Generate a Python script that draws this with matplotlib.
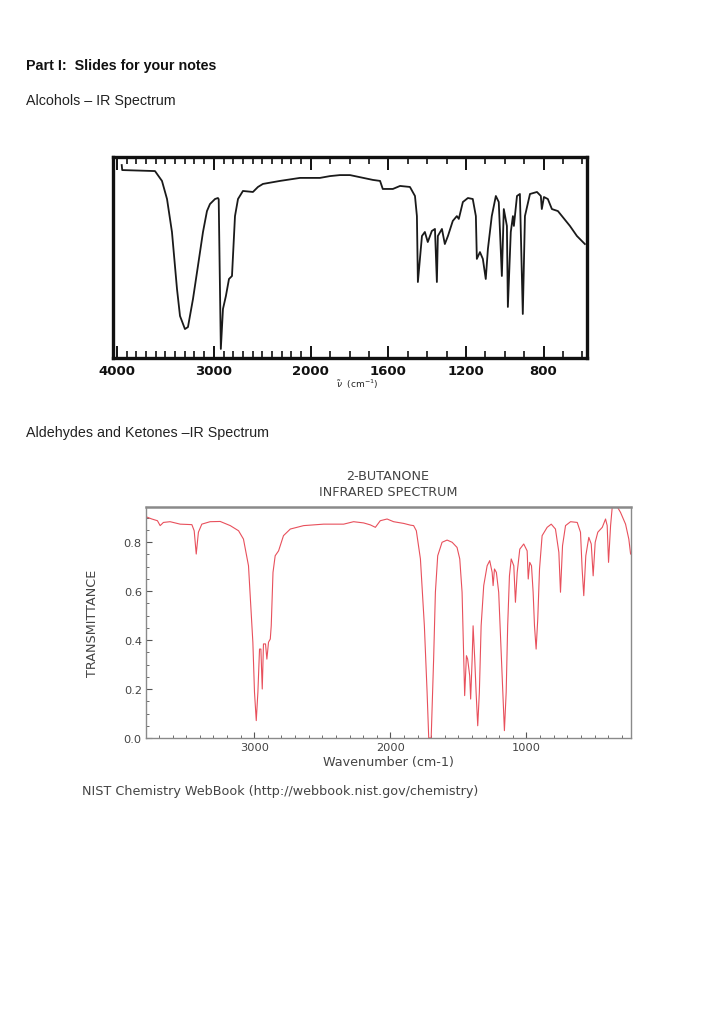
import numpy as np
import matplotlib
matplotlib.use('Agg')
import matplotlib.pyplot as plt
from matplotlib.ticker import FixedLocator, MultipleLocator, NullFormatter, FormatStrFormatter

# --- Alcohol spectrum (scanned chart), wavenumber in cm-1, transmittance in % ---
alc_wn = [3950, 3945, 3607, 3535, 3483, 3432, 3380, 3349, 3298, 3267, 3215, 3164,
          3112, 3071, 3040, 2988, 2958, 2950, 2940, 2928, 2906, 2876, 2844, 2813,
          2782, 2751, 2700, 2597, 2545, 2494, 2318, 2112, 1953, 1901, 1850, 1798,
          1680, 1643, 1629, 1577, 1540, 1489, 1463, 1453, 1448, 1427, 1412, 1397,
          1376, 1360, 1350, 1345, 1324, 1309, 1293, 1268, 1247, 1237, 1216, 1190,
          1165, 1149, 1144, 1128, 1113, 1098, 1087, 1067, 1046, 1031, 1015, 1005,
          989, 984, 969, 958, 953, 937, 922, 907, 896, 870, 834, 814, 809, 798,
          778, 757, 726, 664, 628, 587]
alc_t = [96.0, 93.5, 93.0, 88.1, 79.1, 62.7, 34.3, 20.9, 14.4, 15.4, 29.4, 45.8,
         62.7, 73.1, 76.6, 79.1, 79.6, 79.0, 45.0, 4.5, 24.4, 30.8, 39.3, 40.8,
         70.6, 79.1, 83.1, 82.6, 85.1, 86.6, 88.1, 89.6, 89.6, 90.5, 91.0, 91.0,
         88.6, 88.1, 84.1, 84.1, 85.6, 85.1, 80.6, 70.6, 37.8, 60.7, 62.7, 57.7,
         63.2, 64.2, 37.8, 60.7, 64.2, 56.7, 60.7, 68.2, 70.6, 69.2, 77.6, 79.6,
         79.1, 70.6, 49.3, 52.7, 49.3, 39.3, 54.2, 70.6, 80.6, 77.6, 40.8, 74.1,
         65.7, 25.4, 62.7, 70.6, 65.7, 80.6, 81.6, 21.9, 70.6, 81.6, 82.6, 80.6,
         74.1, 80.1, 79.1, 74.1, 73.1, 65.7, 60.7, 56.7]
alc_labels = [4000, 3000, 2000, 1600, 1200, 800]
alc_minor = [3900, 3800, 3700, 3600, 3500, 3400, 3300, 3200, 3100, 2900, 2800,
             2700, 2600, 2500, 2400, 2300, 2200, 2100, 1900, 1800, 1700, 1500,
             1400, 1300, 1100, 1000, 900, 700, 600]

# --- 2-butanone spectrum (NIST) ---
nist_wn = [3794, 3752, 3711, 3691, 3667, 3618, 3544, 3458, 3441, 3426, 3410, 3385,
           3324, 3250, 3176, 3115, 3079, 3042, 3024, 3010, 2998, 2985, 2973, 2961,
           2951, 2941, 2932, 2917, 2907, 2895, 2882, 2875, 2862, 2846, 2821, 2785,
           2735, 2637, 2490, 2343, 2270, 2196, 2147, 2110, 2074, 2024, 1976, 1902,
           1853, 1829, 1809, 1779, 1750, 1730, 1718, 1700, 1682, 1669, 1652, 1620,
           1583, 1546, 1510, 1490, 1473, 1461, 1454, 1441, 1432, 1417, 1410, 1399,
           1392, 1380, 1370, 1358, 1346, 1333, 1314, 1289, 1270, 1252, 1245, 1235,
           1221, 1204, 1191, 1174, 1162, 1149, 1138, 1125, 1112, 1093, 1081, 1068,
           1049, 1020, 995, 987, 976, 963, 951, 941, 929, 917, 904, 885, 848, 818,
           787, 762, 750, 735, 713, 676, 627, 603, 591, 579, 564, 542, 524, 510,
           495, 476, 443, 419, 407, 397, 382, 370, 333, 309, 272, 248, 235]
nist_t = [0.903, 0.894, 0.887, 0.867, 0.880, 0.883, 0.873, 0.871, 0.846, 0.751, 0.840, 0.873,
          0.883, 0.884, 0.867, 0.846, 0.812, 0.703, 0.527, 0.391, 0.187, 0.071, 0.187, 0.363,
          0.363, 0.200, 0.384, 0.384, 0.322, 0.391, 0.404, 0.458, 0.676, 0.744, 0.764, 0.826,
          0.853, 0.867, 0.873, 0.873, 0.883, 0.878, 0.870, 0.860, 0.887, 0.894, 0.883, 0.876,
          0.869, 0.867, 0.846, 0.731, 0.458, 0.187, 0.0, 0.0, 0.322, 0.595, 0.744, 0.799,
          0.808, 0.799, 0.778, 0.731, 0.595, 0.322, 0.173, 0.336, 0.322, 0.254, 0.159, 0.322,
          0.458, 0.322, 0.187, 0.050, 0.187, 0.458, 0.622, 0.703, 0.724, 0.676, 0.622, 0.690,
          0.676, 0.595, 0.418, 0.187, 0.030, 0.187, 0.458, 0.662, 0.731, 0.703, 0.554, 0.676,
          0.771, 0.792, 0.764, 0.649, 0.717, 0.703, 0.595, 0.458, 0.363, 0.486, 0.690, 0.826,
          0.860, 0.873, 0.853, 0.758, 0.595, 0.785, 0.867, 0.883, 0.880, 0.840, 0.690, 0.581,
          0.744, 0.819, 0.792, 0.662, 0.799, 0.840, 0.860, 0.894, 0.867, 0.717, 0.867, 0.942,
          0.944, 0.921, 0.873, 0.812, 0.751]

W, H = 720, 1020
fig = plt.figure(figsize=(7.2, 10.2), dpi=100)
fig.patch.set_facecolor('white')

def px(x, y):
    # pixel position on the page -> figure fraction
    return x / W, 1 - y / H

page_font = 'Liberation Sans'
fig.text(*px(26, 66), 'Part I:  Slides for your notes', fontsize=10.3, fontweight='bold',
         family=page_font, va='center', color='#111111')
fig.text(*px(26, 101), 'Alcohols \u2013 IR Spectrum', fontsize=10.3, family=page_font,
         va='center', color='#222222')
fig.text(*px(26, 433), 'Aldehydes and Ketones \u2013IR Spectrum', fontsize=10.3,
         family=page_font, va='center', color='#222222')

# ---------------- top chart: old scanned-style spectrum ----------------
ax1 = fig.add_axes([113 / W, 1 - 359 / H, 474 / W, 201 / H])

def fwd(w):
    w = np.asarray(w, dtype=float)
    return np.where(w >= 2000, w, 2 * w - 2000)

def inv(x):
    x = np.asarray(x, dtype=float)
    return np.where(x >= 2000, x, (x + 2000) / 2)

ax1.set_xscale('function', functions=(fwd, inv))
ax1.plot(alc_wn, alc_t, color='#1a1a1a', lw=1.3, solid_joinstyle='round')
ax1.set_xlim(4040, 576)
ax1.set_ylim(0, 100)
ax1.xaxis.set_major_locator(FixedLocator(alc_labels))
ax1.xaxis.set_minor_locator(FixedLocator(alc_minor))
ax1.xaxis.set_minor_formatter(NullFormatter())
ax1.set_xticklabels([str(v) for v in alc_labels])
ax1.set_yticks([])
ax1.tick_params(axis='x', which='major', direction='in', length=9, width=1.4,
                top=True, labelsize=9.5, pad=4, colors='#111111')
ax1.tick_params(axis='x', which='minor', direction='in', length=5, width=1.2,
                top=True, colors='#111111')
for lbl in ax1.get_xticklabels():
    lbl.set_fontweight('bold')
for s in ax1.spines.values():
    s.set_linewidth(2.4)
    s.set_color('#111111')
fig.text(*px(357, 384), r'$\tilde{\nu}$  (cm$^{-1}$)', fontsize=6.5, ha='center',
         va='center', color='#222222')

# ---------------- bottom chart: NIST 2-butanone ----------------
ax2 = fig.add_axes([146 / W, 1 - 739 / H, 485 / W, 231 / H])
ax2.plot(nist_wn, nist_t, color='#e8505c', lw=0.8)
ax2.set_xlim(3795, 232)
ax2.set_ylim(0, 0.943)
ax2.xaxis.set_major_locator(MultipleLocator(1000))
ax2.xaxis.set_minor_locator(MultipleLocator(100))
ax2.yaxis.set_major_locator(MultipleLocator(0.2))
ax2.yaxis.set_minor_locator(MultipleLocator(0.05))
ax2.yaxis.set_major_formatter(FormatStrFormatter('%.1f'))
ax2.tick_params(which='both', direction='in', colors='#555555', labelcolor='#444444',
                labelsize=8.2)
ax2.tick_params(which='major', length=4, width=0.8, pad=3)
ax2.tick_params(which='minor', length=2, width=0.6)
for s in ax2.spines.values():
    s.set_color('#8a8a8a')
    s.set_linewidth(1.0)
ax2.spines['top'].set_linewidth(1.8)
ax2.set_xlabel('Wavenumber (cm-1)', fontsize=9.2, color='#444444', labelpad=2)
ax2.set_ylabel('TRANSMITTANCE', fontsize=9.2, color='#444444', labelpad=18)
fig.text(*px(388, 477), '2-BUTANONE', fontsize=9.2, color='#444444',
         ha='center', va='center')
fig.text(*px(388, 493), 'INFRARED SPECTRUM', fontsize=9.2, color='#444444',
         ha='center', va='center')
fig.text(*px(82, 792), 'NIST Chemistry WebBook (http://webbook.nist.gov/chemistry)',
         fontsize=9.2, color='#444444', va='center')

fig.savefig('out.png', dpi=100, facecolor='white')
